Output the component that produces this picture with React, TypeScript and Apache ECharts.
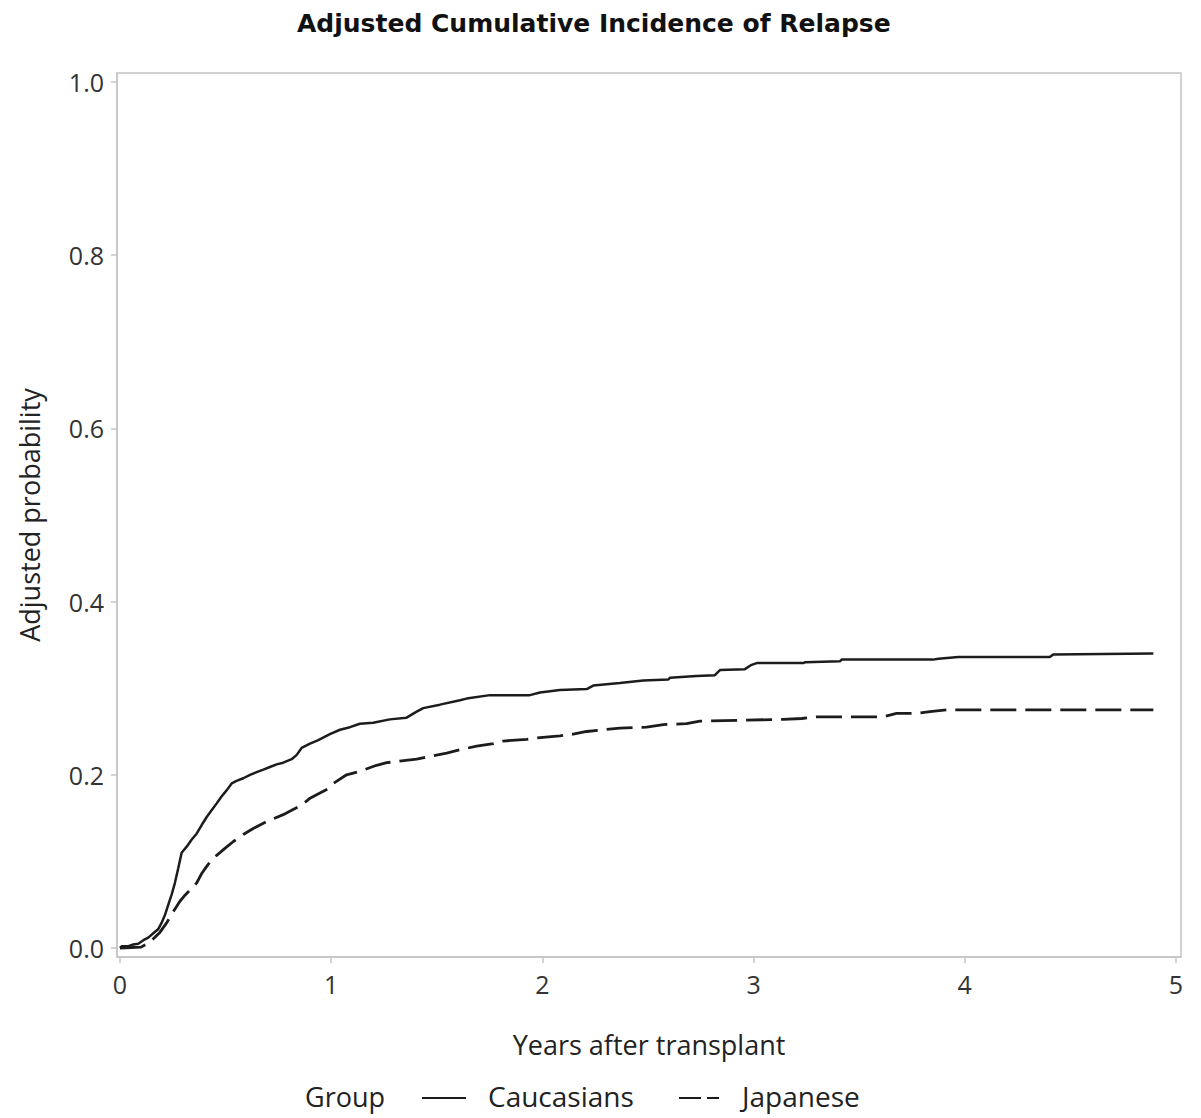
import React, { useEffect, useRef } from "react";
import * as echarts from "echarts";

const chartTitle = "Adjusted Cumulative Incidence of Relapse";
const xAxisName = "Years after transplant";
const yAxisName = "Adjusted probability";
const legendTitle = "Group";
const groupNames = ["Caucasians", "Japanese"];
const xTicks = [0, 1, 2, 3, 4, 5];
const yTicks = [0, 0.2, 0.4, 0.6, 0.8, 1.0];

const cauX = [0, 0.008, 0.040, 0.063, 0.087, 0.111, 0.134, 0.158, 0.182, 0.197, 0.213, 0.229, 0.245, 0.260, 0.276, 0.292,
  0.316, 0.339, 0.363, 0.387, 0.410, 0.434, 0.458, 0.481, 0.505, 0.529, 0.552, 0.584, 0.616, 0.647, 0.679, 0.710, 0.742,
  0.773, 0.813, 0.837, 0.860, 0.900, 0.939, 0.994, 1.042, 1.089, 1.136, 1.199, 1.278, 1.357, 1.405, 1.436, 1.515, 1.610,
  1.641, 1.752, 1.941, 1.989, 2.083, 2.210, 2.241, 2.367, 2.478, 2.596, 2.604, 2.730, 2.817, 2.841, 2.959, 2.991, 3.015,
  3.236, 3.244, 3.409, 3.417, 3.851, 3.875, 3.970, 4.403, 4.419, 4.893];
const cauY = [0, 0.002, 0.002, 0.004, 0.005, 0.009, 0.012, 0.017, 0.022, 0.029, 0.038, 0.050, 0.062, 0.075, 0.092, 0.110,
  0.117, 0.125, 0.132, 0.142, 0.151, 0.159, 0.167, 0.175, 0.182, 0.190, 0.193, 0.196, 0.200, 0.203, 0.206, 0.209, 0.212,
  0.214, 0.218, 0.223, 0.231, 0.236, 0.240, 0.247, 0.252, 0.255, 0.259, 0.260, 0.264, 0.266, 0.273, 0.277, 0.281, 0.286,
  0.288, 0.292, 0.292, 0.295, 0.298, 0.299, 0.303, 0.306, 0.309, 0.310, 0.312, 0.314, 0.315, 0.321, 0.322, 0.327, 0.329,
  0.329, 0.330, 0.331, 0.333, 0.333, 0.334, 0.336, 0.336, 0.339, 0.340];

const japX = [0, 0.100, 0.142, 0.189, 0.221, 0.253, 0.284, 0.308, 0.339, 0.363, 0.387, 0.410, 0.434, 0.458, 0.497, 0.537,
  0.584, 0.631, 0.694, 0.773, 0.813, 0.860, 0.900, 0.947, 0.986, 1.010, 1.073, 1.136, 1.215, 1.263, 1.405, 1.484, 1.547,
  1.610, 1.689, 1.768, 1.815, 1.926, 1.989, 2.083, 2.146, 2.210, 2.288, 2.367, 2.494, 2.573, 2.683, 2.746, 3.141, 3.228,
  3.299, 3.614, 3.677, 3.772, 3.835, 3.914, 4.893];
const japY = [0, 0.001, 0.007, 0.018, 0.029, 0.042, 0.054, 0.061, 0.069, 0.075, 0.086, 0.094, 0.102, 0.107, 0.115, 0.123,
  0.131, 0.138, 0.146, 0.154, 0.159, 0.165, 0.173, 0.179, 0.184, 0.190, 0.200, 0.204, 0.211, 0.214, 0.218, 0.222, 0.225,
  0.229, 0.233, 0.236, 0.239, 0.241, 0.243, 0.245, 0.247, 0.250, 0.252, 0.254, 0.255, 0.258, 0.259, 0.262, 0.264, 0.265,
  0.267, 0.267, 0.271, 0.271, 0.273, 0.275, 0.275];

const zip = (xs: number[], ys: number[]) => xs.map((x, i) => [x, ys[i]]);

const FONT = "Open Sans";
const LINE_COLOR = "#1c1c1c";
const FRAME = "#c4c4c4";

export default function App() {
  const ref = useRef<HTMLDivElement>(null);
  useEffect(() => {
    if (!ref.current) return;
    const chart = echarts.init(ref.current, null, { renderer: "svg" });
    const legendY = 1096;
    const legendFont = { fontFamily: FONT, fontSize: 28, fill: "#222", verticalAlign: "middle" as const };
    chart.setOption({
      animation: false,
      backgroundColor: "#ffffff",
      title: {
        text: chartTitle,
        left: 292,
        top: 6,
        textStyle: { fontFamily: "DejaVu Sans", fontWeight: "bold", fontSize: 25, color: "#111" },
      },
      grid: {
        left: 117,
        right: 20,
        top: 73,
        bottom: 161,
        show: true,
        borderColor: FRAME,
        borderWidth: 1.5,
      },
      xAxis: {
        type: "value",
        min: -0.014,
        max: 5.024,
        name: xAxisName,
        nameLocation: "middle",
        nameGap: 74,
        nameTextStyle: { fontFamily: FONT, fontSize: 27, color: "#222" },
        axisLine: { show: true, onZero: false, lineStyle: { color: FRAME, width: 1.5 } },
        axisTick: { show: true, customValues: xTicks, length: 6, lineStyle: { color: FRAME, width: 1.5 } },
        axisLabel: {
          customValues: xTicks,
          formatter: (v: number) => String(Math.round(v)),
          fontFamily: FONT,
          fontSize: 25,
          color: "#333",
          margin: 14,
        },
        splitLine: { show: false },
      },
      yAxis: {
        type: "value",
        min: -0.0104,
        max: 1.0104,
        name: yAxisName,
        nameLocation: "middle",
        nameGap: 74,
        nameTextStyle: { fontFamily: FONT, fontSize: 27, color: "#222" },
        axisLine: { show: true, onZero: false, lineStyle: { color: FRAME, width: 1.5 } },
        axisTick: { show: true, customValues: yTicks, length: 6, lineStyle: { color: FRAME, width: 1.5 } },
        axisLabel: {
          customValues: yTicks,
          formatter: (v: number) => v.toFixed(1),
          fontFamily: FONT,
          fontSize: 25,
          color: "#333",
          margin: 13,
        },
        splitLine: { show: false },
      },
      series: [
        {
          name: groupNames[0],
          type: "line",
          symbol: "none",
          data: zip(cauX, cauY),
          lineStyle: { color: LINE_COLOR, width: 2.5 },
        },
        {
          name: groupNames[1],
          type: "line",
          symbol: "none",
          data: zip(japX, japY),
          lineStyle: { color: LINE_COLOR, width: 2.8, type: [26, 9] },
        },
      ],
      graphic: [
        { type: "text", x: 305, y: legendY, style: { text: legendTitle, ...legendFont, fontSize: 27 } },
        {
          type: "line",
          shape: { x1: 422, y1: legendY + 2, x2: 466, y2: legendY + 2 },
          style: { stroke: LINE_COLOR, lineWidth: 2 },
        },
        { type: "text", x: 488, y: legendY, style: { text: groupNames[0], ...legendFont } },
        {
          type: "line",
          shape: { x1: 679, y1: legendY + 2, x2: 719, y2: legendY + 2 },
          style: { stroke: LINE_COLOR, lineWidth: 2, lineDash: [22, 6] },
        },
        { type: "text", x: 742, y: legendY, style: { text: groupNames[1], ...legendFont } },
      ],
    });
    return () => chart.dispose();
  }, []);
  return (
    <div
      ref={ref}
      style={{ position: "fixed", left: 0, top: 0, width: 1201, height: 1118, background: "#fff" }}
    />
  );
}
